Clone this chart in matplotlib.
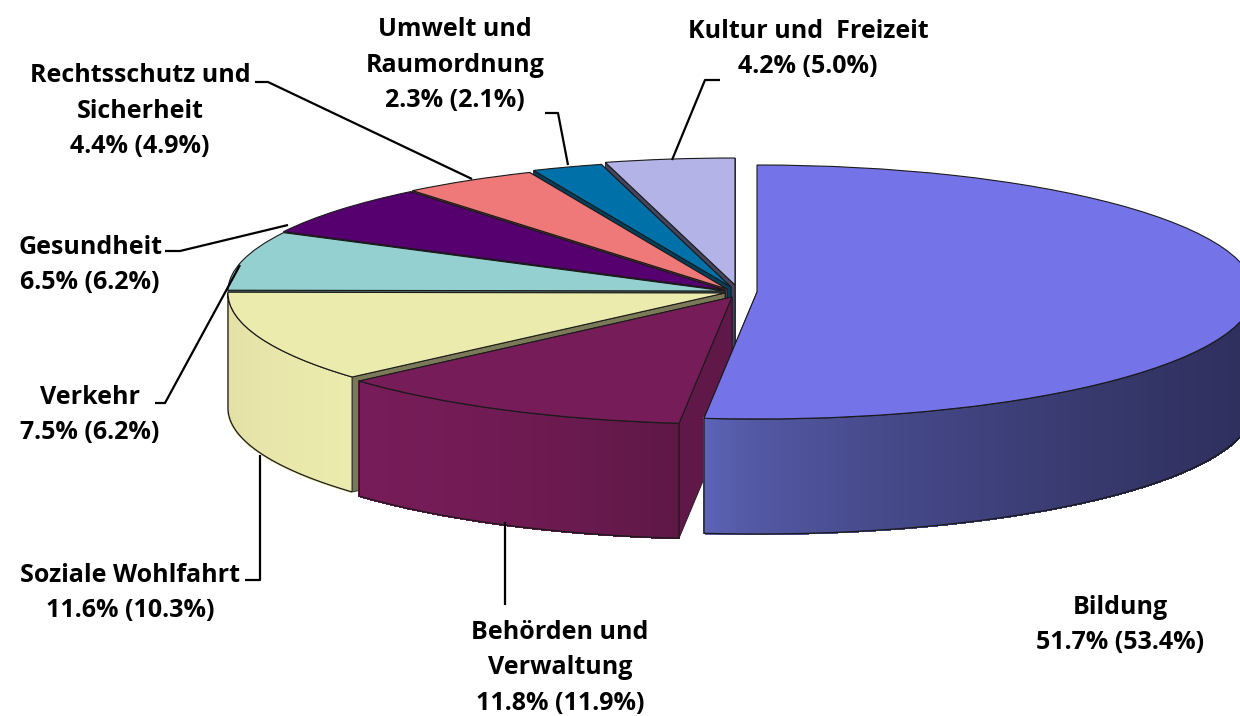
import matplotlib
matplotlib.use("Agg")
import matplotlib.pyplot as plt
import numpy as np
from matplotlib.colors import to_rgb
from matplotlib.patches import Polygon

names = ["Bildung", "Behörden und\nVerwaltung", "Soziale Wohlfahrt", "Verkehr", "Gesundheit",
         "Rechtsschutz und\nSicherheit", "Umwelt und\nRaumordnung", "Kultur und  Freizeit"]
share_now = [51.7, 11.8, 11.6, 7.5, 6.5, 4.4, 2.3, 4.2]
share_before = [53.4, 11.9, 10.3, 6.2, 6.2, 4.9, 2.1, 5.0]

top_colors = ["#7474e8", "#761c58", "#ecebae", "#95d0d0", "#560070", "#ef7878", "#0070a8", "#b3b3e8"]
face_colors = ["#3a3b78", "#5f1848", "#7a7a58", "#4c6c66", "#3a0050", "#8a4848", "#00405f", "#45455f"]
wall_left = ["#6066bc", "#761c58", "#e2dfa4", "#95d0d0", "#560070", "#ef7878", "#0070a8", "#b3b3e8"]
wall_right = ["#2e2f5c", "#5e1846", "#ecebae", "#95d0d0", "#560070", "#ef7878", "#0070a8", "#b3b3e8"]
wall_power = [0.6, 1.6, 0.6, 1, 1, 1, 1, 1]

# where each slice's tip sits in the picture (px)
centers_px = [(757, 292), (732, 297), (725, 293), (725, 291), (725, 290), (727, 289), (731, 287), (735, 285)]
label_pos = [(1120, 625), (560, 668), (130, 593), (90, 415), (90, 265), (140, 111), (455, 65), (808, 49)]
leaders = [
    None,
    [(505, 605), (505, 522)],
    [(245, 580), (260, 580), (260, 455)],
    [(155, 403), (165, 403), (240, 265)],
    [(165, 251), (180, 251), (288, 225)],
    [(255, 82), (268, 82), (472, 179)],
    [(545, 113), (558, 113), (568, 165)],
    [(720, 80), (705, 80), (672, 160)],
]

W, H = 1240, 716
RX, RY = 497, 127
DEPTH = 115
X0, Y0 = 725, 291


def to_data(px, py):
    return (px - X0) / RX, (Y0 - py) / RY


fig = plt.figure(figsize=(W / 100, H / 100), dpi=100)
ax = fig.add_axes([0, 0, 1, 1])
wedges, _ = ax.pie(share_now, colors=top_colors, startangle=90, counterclock=False, radius=1,
                   wedgeprops=dict(edgecolor="#1a1a1a", linewidth=0.8))
ax.set_aspect("auto")
ax.set_xlim(to_data(0, 0)[0], to_data(W, 0)[0])
ax.set_ylim(to_data(0, H)[1], to_data(0, 0)[1])
depth = DEPTH / RY

# back slices first, Bildung goes on top
order = [7, 6, 5, 4, 3, 2, 1, 0]
for z, i in enumerate(order):
    w = wedges[i]
    cx, cy = to_data(*centers_px[i])
    w.set_center((cx, cy))
    w.set_zorder(z * 10 + 3)

    # cut faces
    for ang in (w.theta1, w.theta2):
        ex = cx + np.cos(np.radians(ang))
        ey = cy + np.sin(np.radians(ang))
        pts = [(cx, cy), (ex, ey), (ex, ey - depth), (cx, cy - depth)]
        ax.add_patch(Polygon(pts, closed=True, facecolor=face_colors[i], edgecolor="#1a1a1a",
                             linewidth=0.6, zorder=z * 10))

    # outer wall, front half only
    t1, t2 = max(w.theta1, -180), min(w.theta2, 0)
    if t1 >= t2:
        continue
    t = np.radians(np.linspace(t1, t2, 200))
    x = cx + np.cos(t)
    y = cy + np.sin(t)
    c_l, c_r = np.array(to_rgb(wall_left[i])), np.array(to_rgb(wall_right[i]))
    # shade goes with x
    frac = ((x - x.min()) / (x.max() - x.min())) ** wall_power[i]
    for k in range(len(t) - 1):
        f = (frac[k] + frac[k + 1]) / 2
        quad = [(x[k], y[k]), (x[k + 1], y[k + 1]), (x[k + 1], y[k + 1] - depth), (x[k], y[k] - depth)]
        col = tuple(c_l + (c_r - c_l) * f)
        ax.add_patch(Polygon(quad, closed=True, facecolor=col, edgecolor=col, linewidth=1.0,
                             antialiased=False, zorder=z * 10 + 1))
    outline = list(zip(x, y)) + list(zip(x[::-1], y[::-1] - depth))
    ax.add_patch(Polygon(outline, closed=True, fill=False, edgecolor="#1a1a1a", linewidth=0.9, zorder=z * 10 + 2))

# labels and leader lines in picture coordinates
ov = fig.add_axes([0, 0, 1, 1])
ov.set_xlim(0, W)
ov.set_ylim(H, 0)
ov.axis("off")
ov.patch.set_alpha(0)

for i in range(len(names)):
    if leaders[i] is not None:
        lx, ly = zip(*leaders[i])
        ov.plot(lx, ly, color="black", linewidth=1.6, solid_capstyle="butt")
    ov.text(label_pos[i][0], label_pos[i][1], f"{names[i]}\n{share_now[i]}% ({share_before[i]}%)",
            ha="center", va="center", fontsize=18, family="Open Sans", fontweight="bold",
            linespacing=1.55, color="black")

fig.savefig("out.png", dpi=100)
